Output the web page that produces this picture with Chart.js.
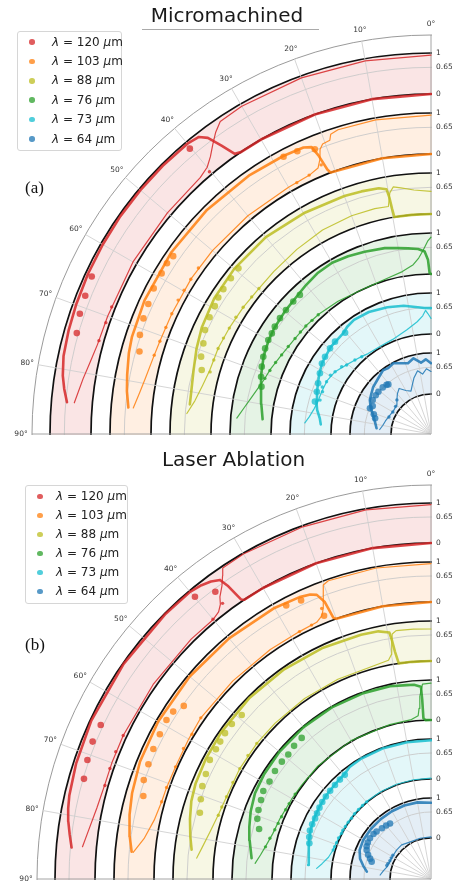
<!DOCTYPE html>
<html lang="en">
<head>
<meta charset="utf-8">
<title>Micromachined / Laser Ablation</title>
<script src="https://cdn.jsdelivr.net/npm/chart.js"></script>
<style>
html, body { margin:0; padding:0; background:#fff; }
body { width:452px; height:884px; overflow:hidden; position:relative; font-family:"DejaVu Sans", sans-serif; }
.panel { position:absolute; left:0; width:452px; overflow:hidden; }
.panel canvas { position:absolute; }
.title { position:absolute; left:0; font-size:20px; line-height:20px; color:#1a1a1a; text-align:center; white-space:nowrap; }
.rule { position:absolute; height:1px; background:#aaa; }
.tag { position:absolute; font-family:"Liberation Serif","Times New Roman",serif; font-size:17px; line-height:17px; color:#111; }
.legend { position:absolute; background:#fff; border:1px solid #d6d6d6; border-radius:3px; box-sizing:border-box; }
.legend .row { position:absolute; left:0; width:100%; height:19px; line-height:19px; font-size:12px; color:#222; white-space:nowrap; }
.legend .dot { position:absolute; width:5.5px; height:5.5px; border-radius:50%; top:6.75px; }
.legend .txt { position:absolute; top:0; }
.legend i { font-style:italic; }
</style>
</head>
<body>
<div class="panel" id="panelA" style="top:0;height:440px;">
  <canvas id="chartA" width="838" height="838" style="left:12px;top:15px;"></canvas>
  <div class="title" style="top:5px;width:454px;">Micromachined</div>
  <div class="rule" style="left:142px;top:29px;width:177px;"></div>
  <div class="legend" id="legendA" style="left:17px;top:31px;width:105px;height:120px;"></div>
  <div class="tag" style="left:25px;top:179px;">(a)</div>
</div>
<div class="panel" id="panelB" style="top:440px;height:444px;">
  <canvas id="chartB" width="828" height="828" style="left:17px;top:25px;"></canvas>
  <div class="title" style="top:9px;width:467px;">Laser Ablation</div>
  <div class="legend" id="legendB" style="left:25px;top:45px;width:103px;height:119px;"></div>
  <div class="tag" style="left:25px;top:196px;">(b)</div>
</div>
<script>
// ---------------- data (angle in degrees, normalised value in band) ----------------
const WAVELENGTHS = [120, 103, 88, 76, 73, 64];
const ANGLE_TICKS = [0, 10, 20, 30, 40, 50, 60, 70, 80, 90];
const RADIAL_TICKS = [0, 0.65, 1];

// Micromachined
const MM_120_THICK = [[0,0],[10,0],[20,0],[30,0],[34,0],[35,0.05],[36,0.4],[37,0.75],[38,0.9],[40,0.95],[45,0.96],[50,0.96],[55,0.96],[60,0.95],[65,0.94],[70,0.92],[74,0.9],[78,0.87],[81,0.8],[83,0.72],[85,0.62]];
const MM_120_THIN = [[0,0.95],[10,0.95],[20,0.95],[30,0.94],[34,0.9],[35.5,0.75],[37,0.55],[38.5,0.35],[40,0.2],[42,0.12],[50,0.1],[60,0.1],[70,0.1],[75,0.13],[78,0.2],[81,0.3],[85,0.44]];
const MM_120_BIG = [[40.2,0.82],[65.1,0.83],[68.2,0.79],[71.1,0.76],[74.1,0.69]];
const MM_120_SMALL = [[40.2,0.08],[68.3,0.09],[71.1,0.09],[74.3,0.12]];

const MM_103_THICK = [[0,0],[10,0],[21,0],[21.4,0.1],[22,0.5],[22.6,0.75],[24,0.82],[28,0.85],[35,0.88],[45,0.9],[55,0.9],[65,0.88],[72,0.84],[75,0.8],[79,0.72],[82,0.66],[85,0.58]];
const MM_103_THIN = [[0,0.95],[10,0.95],[17,0.93],[18.5,0.88],[19,0.75],[20.5,0.72],[21.3,0.62],[22,0.4],[23,0.22],[25,0.15],[30,0.12],[40,0.12],[50,0.13],[57,0.14],[65,0.14],[71,0.16],[75,0.2],[79,0.27],[82,0.35],[85,0.46]];
const MM_103_BIG = [[22.2,0.67],[25.3,0.8],[28.0,0.83],[55.4,0.81],[57.1,0.84],[59.2,0.82],[62.3,0.81],[65.3,0.76],[68.1,0.73],[71.2,0.67],[74.2,0.56]];
const MM_103_SMALL = [[22.2,0.26],[25.2,0.15],[28.1,0.12],[54.5,0.14],[57.2,0.14],[59.8,0.14],[62.1,0.15],[65.1,0.14],[68.1,0.14],[71.1,0.16],[74.1,0.19]];

const MM_88_THICK = [[0,0],[5,0],[9.6,0],[9.8,0.2],[10,0.5],[10.3,0.7],[12,0.76],[16,0.79],[20,0.81],[30,0.85],[40,0.9],[50,0.9],[58,0.87],[65,0.8],[70,0.72],[75,0.63],[79,0.58],[83,0.56]];
const MM_88_THIN = [[0,0.55],[4,0.6],[7,0.68],[8.7,0.73],[9.7,0.6],[10.6,0.28],[14,0.3],[20,0.3],[28,0.27],[36,0.2],[44,0.15],[50,0.13],[56,0.16],[62,0.19],[68,0.23],[74,0.25],[78,0.33],[82,0.45],[85.2,0.61]];
const MM_88_BIG = [[49.3,0.83],[52.1,0.82],[55.1,0.81],[57.3,0.8],[59.4,0.76],[62.2,0.74],[65.3,0.7],[68.3,0.61],[71.4,0.55],[74.4,0.44]];
const MM_88_SMALL = [[49.8,0.13],[52.6,0.14],[56,0.16],[59.1,0.18],[62.3,0.19],[65.2,0.21],[68.1,0.23],[71.2,0.23],[74.3,0.23]];

const MM_76_THICK = [[0,0],[0.5,0.03],[1,0.35],[2,0.55],[4,0.62],[7,0.66],[10,0.7],[14,0.77],[20,0.83],[25,0.88],[30,0.92],[35,0.9],[40,0.84],[43,0.8],[50,0.75],[56,0.71],[60,0.67],[65,0.6],[71,0.48],[75,0.39],[80,0.3],[85,0.22]];
const MM_76_THIN = [[0,0.9],[1,0.8],[2.4,0.59],[4,0.4],[6,0.25],[10,0.12],[15,0.05],[24,0],[35,0.05],[43,0.1],[49,0.13],[55,0.15],[62,0.22],[68,0.32],[72,0.38],[78,0.55],[82,0.7],[85.3,0.85]];
const MM_76_BIG = [[43.3,0.76],[46.1,0.76],[49.5,0.75],[52.5,0.74],[55.5,0.72],[57.7,0.69],[60,0.68],[62.7,0.65],[65.3,0.6],[68.3,0.54],[71.4,0.47],[74.4,0.39]];
const MM_76_SMALL = [[43.4,0.1],[46.3,0.11],[49.2,0.13],[52,0.14],[54.9,0.15],[58.5,0.18],[62.1,0.22],[65.3,0.27],[68.5,0.32],[71.5,0.37]];

const MM_73_THICK = [[0,0.63],[3,0.64],[6,0.67],[12,0.76],[19,0.83],[27,0.9],[34,0.92],[38,0.88],[41,0.82],[49,0.8],[57,0.73],[62,0.65],[66,0.58],[70,0.52],[74,0.47],[78,0.4],[82,0.3],[85,0.26]];
const MM_73_THIN = [[0,0.38],[1.5,0.5],[2.5,0.58],[4,0.45],[7,0.32],[13,0.17],[22,0.05],[30,0.03],[38,0.05],[42,0.1],[46,0.15],[51,0.23],[57,0.35],[63,0.41],[69,0.42],[74,0.43],[78,0.48],[82,0.56],[85,0.65]];
const MM_73_BIG = [[40.3,0.8],[46.1,0.81],[49.7,0.79],[53.9,0.76],[57.1,0.73],[61.3,0.65],[65.8,0.58],[69.7,0.53],[74.4,0.5]];
const MM_73_SMALL = [[41.9,0.09],[45.8,0.15],[50.7,0.22],[53,0.29],[57,0.35],[59.7,0.4],[63.4,0.41],[66.6,0.45],[68.7,0.4],[73,0.39]];

const MM_64_THICK = [[0,0.75],[4,0.85],[8,0.78],[13,0.92],[18,0.84],[23,0.9],[28,0.98],[33,0.94],[37,0.97],[43,0.9],[51,0.84],[56,0.78],[61,0.73],[67,0.62],[73,0.49],[78,0.42],[84,0.36]];
const MM_64_THIN = [[0,0.55],[4,0.62],[8,0.5],[12,0.6],[17,0.45],[21,0.3],[25,0.18],[30,0.25],[35,0.38],[40,0.3],[45,0.2],[50,0.12],[58,0.1],[66,0.13],[74,0.18],[80,0.22],[85,0.28]];
const MM_64_BIG = [[40.7,0.62],[42.1,0.64],[46,0.66],[51.2,0.67],[55,0.67],[59.7,0.67],[64.4,0.6],[67.2,0.64],[71,0.5],[74.3,0.44]];
const MM_64_SMALL = [[45,0.2],[52,0.12],[60,0.1],[68,0.13]];

// Laser Ablation
const LA_120_THICK = [[0,0],[10,0],[20,0],[30,0],[33.8,0],[34.2,0.05],[34.7,0.5],[35.2,0.75],[36.5,0.85],[38,0.92],[40,0.97],[45,0.98],[55,0.98],[65,0.97],[72,0.93],[77,0.88],[79,0.84],[81,0.78],[83,0.7],[85,0.62]];
const LA_120_THIN = [[0,0.96],[10,0.97],[20,0.97],[30,0.98],[33.8,0.96],[34.5,0.8],[35.5,0.6],[36.8,0.41],[37.5,0.25],[38.5,0.13],[40,0.07],[45,0.08],[55,0.08],[65,0.09],[70,0.09],[74,0.09],[78,0.14],[82,0.25],[84.7,0.35]];
const LA_120_BIG = [[36.9,0.58],[39.9,0.8],[65,0.71],[67.9,0.73],[70.9,0.69],[73.9,0.63]];
const LA_120_SMALL = [[37.1,0.24],[40,0.08],[65,0.09],[68,0.1],[71,0.09],[74,0.08]];

const LA_103_THICK = [[0,0],[10,0],[20,0],[20.5,0.05],[21,0.5],[21.9,0.73],[23,0.8],[25,0.85],[30,0.9],[40,0.93],[50,0.95],[60,0.95],[68,0.92],[74,0.85],[78,0.78],[82,0.68],[84.8,0.59]];
const LA_103_THIN = [[0,0.96],[10,0.97],[19,0.96],[20.1,0.9],[21,0.6],[21.7,0.36],[22.5,0.2],[24,0.1],[28,0.08],[35,0.08],[45,0.08],[55,0.1],[60,0.07],[66,0.05],[71,0.07],[74,0.08],[78,0.15],[82,0.32],[84.9,0.55]];
const LA_103_BIG = [[22.1,0.18],[25,0.76],[27.9,0.81],[55,0.62],[57,0.76],[59,0.79],[61.9,0.76],[64.9,0.74],[67.9,0.7],[71,0.67],[73.9,0.56]];
const LA_103_SMALL = [[22,0.37],[25.2,0.09],[28,0.08],[55,0.1],[58.8,0.06],[62.2,0.07],[66.3,0.05],[70.9,0.07],[74,0.08]];

const LA_88_THICK = [[0,0],[5,0],[8.5,0],[9,0.3],[9.3,0.6],[9.6,0.8],[12,0.88],[16,0.9],[25,0.93],[35,0.95],[45,0.96],[55,0.95],[62,0.93],[68,0.9],[72,0.85],[76,0.76],[80,0.66],[83,0.58]];
const LA_88_THIN = [[0,0.8],[4,0.81],[8,0.82],[9,0.75],[9.5,0.5],[10,0.25],[11,0.12],[15,0.07],[25,0.06],[35,0.06],[45,0.06],[52,0.07],[60,0.07],[68,0.06],[73,0.1],[78,0.2],[82,0.32],[84.9,0.43]];
const LA_88_BIG = [[49.1,0.81],[52.1,0.86],[54.7,0.86],[56.9,0.84],[58.9,0.83],[61.7,0.83],[65,0.76],[67.9,0.72],[70.9,0.64],[74,0.56]];
const LA_88_SMALL = [[52.1,0.07],[56,0.07],[60,0.07],[64,0.06],[68.1,0.06],[71,0.08],[73.3,0.1]];

const LA_76_THICK = [[0,0],[2,0],[2.7,0.05],[2.8,0.5],[3,0.84],[5,0.9],[7.1,0.91],[12,0.95],[20,0.97],[30,0.98],[40,0.98],[50,0.97],[58,0.95],[64,0.92],[69.4,0.84],[74,0.75],[78,0.66],[83.4,0.54]];
const LA_76_THIN = [[0,0.92],[2.5,0.9],[3.5,0.6],[4,0.3],[4.5,0.12],[7,0.04],[15,0.02],[30,0.02],[45,0.02],[54,0.02],[60,0.04],[68.1,0.09],[74,0.14],[78,0.22],[82,0.33],[84.9,0.44]];
const LA_76_BIG = [[42.5,0.81],[45.8,0.8],[48.9,0.76],[51.8,0.77],[55.3,0.77],[58.9,0.74],[62.3,0.76],[65.1,0.71],[68.2,0.67],[70.9,0.62],[73.8,0.5]];
const LA_76_SMALL = [[58,0.03],[62,0.04],[64.5,0.05],[67.4,0.07],[70,0.09],[72.5,0.12],[75.8,0.18],[79,0.24]];

const LA_73_THICK = [[0,0.97],[10,0.97],[20,0.98],[30,0.98],[36,0.96],[39.6,0.9],[45.6,0.87],[51.9,0.85],[57.4,0.82],[62.4,0.79],[68.2,0.75],[73.6,0.68],[78,0.63],[83.5,0.59]];
const LA_73_THIN = [[0,0.02],[10,0.02],[20,0.02],[30,0.02],[40,0.02],[50,0.02],[60,0.02],[68,0.03],[74,0.06],[78,0.12],[82,0.25],[84.7,0.37]];
const LA_73_BIG = [[39.6,0.88],[42.5,0.87],[45.6,0.86],[48.8,0.85],[51.9,0.84],[54.7,0.83],[57.4,0.81],[60,0.79],[62.4,0.77],[65.3,0.77],[68.2,0.76],[71,0.72],[73.6,0.67]];
const LA_73_SMALL = [[39.8,0.01],[43,0.01],[46.2,0.01],[49.5,0.01],[52.6,0],[55.5,0.01],[58.5,0.01],[61,0.02],[62.9,0.01],[66,0.03],[69,0.03],[71.5,0.04],[73.5,0.05]];

const LA_64_THICK = [[0,0.88],[10,0.92],[20,0.93],[30,0.93],[40,0.93],[50,0.93],[60,0.93],[68,0.9],[74,0.82],[79,0.7],[83.5,0.59]];
const LA_64_THIN = [[0,0.03],[15,0.03],[30,0.04],[40.8,0.1],[50,0.1],[60,0.09],[67.1,0.09],[75,0.12],[80,0.18],[85.5,0.25]];
const LA_64_BIG = [[36.4,0.7],[40,0.72],[44,0.74],[48.9,0.78],[52,0.8],[56.3,0.81],[60,0.8],[63,0.78],[65.7,0.74],[69,0.66],[71.5,0.58],[73.7,0.52]];
const LA_64_SMALL = [[58,0.1],[62,0.1],[66,0.1],[70,0.12],[73,0.13]];

// ---------------- layout / style (not data) ----------------
const TAB_RGB = ['214,39,40','255,127,14','188,189,34','44,160,44','23,190,207','31,119,180'];
const rgba = (k, a) => `rgba(${TAB_RGB[k]},${a})`;
const STEP = 0.1;                       // angular resolution of the category grid
const N_LABELS = Math.round(360 / STEP);
const ANGLE_LABELS = Array.from({ length: N_LABELS }, (_, i) => String(i));
const angleIndex = t => Math.round((90 - t) / STEP);  // 0 deg at top, 90 deg at left
const ANGLE_TICK_INDEX = new Set(ANGLE_TICKS.map(angleIndex));
const BAND_FILL_TICK = 0.5;

const PANELS = [
  { canvas: 'chartA', R: 399, W: 41, pad: 20, inner: [340, 280, 220, 160, 100, 40],
    bands: [[MM_120_THICK, MM_120_THIN, MM_120_BIG, MM_120_SMALL],
            [MM_103_THICK, MM_103_THIN, MM_103_BIG, MM_103_SMALL],
            [MM_88_THICK, MM_88_THIN, MM_88_BIG, MM_88_SMALL],
            [MM_76_THICK, MM_76_THIN, MM_76_BIG, MM_76_SMALL],
            [MM_73_THICK, MM_73_THIN, MM_73_BIG, MM_73_SMALL],
            [MM_64_THICK, MM_64_THIN, MM_64_BIG, MM_64_SMALL]],
    legend: { id: 'legendA', row0: 10, step: 19.4, dotX: 14, textX: 34 } },
  { canvas: 'chartB', R: 394, W: 40, pad: 20, inner: [336, 277, 218, 159, 100, 41],
    bands: [[LA_120_THICK, LA_120_THIN, LA_120_BIG, LA_120_SMALL],
            [LA_103_THICK, LA_103_THIN, LA_103_BIG, LA_103_SMALL],
            [LA_88_THICK, LA_88_THIN, LA_88_BIG, LA_88_SMALL],
            [LA_76_THICK, LA_76_THIN, LA_76_BIG, LA_76_SMALL],
            [LA_73_THICK, LA_73_THIN, LA_73_BIG, LA_73_SMALL],
            [LA_64_THICK, LA_64_THIN, LA_64_BIG, LA_64_SMALL]],
    legend: { id: 'legendB', row0: 10.7, step: 19, dotX: 14, textX: 30 } }
];

// radar controller whose lines are open curves (not closed loops)
class OpenRadarController extends Chart.RadarController {
  update(mode) {
    super.update(mode);
    const line = this._cachedMeta.dataset;
    if (line) { line._loop = false; line._fullLoop = false; line._segments = undefined; line._path = undefined; }
  }
}
OpenRadarController.id = 'openRadar';
Chart.register(OpenRadarController);

function toSeries(pairs) {
  const out = new Array(angleIndex(0) + 1).fill(null);
  pairs.forEach(p => { out[angleIndex(p[0])] = p[1]; });
  return out;
}

function makeScales(panel) {
  const scales = {};
  panel.inner.forEach((r0, k) => {
    scales['r' + k] = {
      type: 'radialLinear', axis: 'r', startAngle: -90,
      min: -r0 / panel.W, max: (panel.R - r0) / panel.W, beginAtZero: false,
      ticks: { display: false }, pointLabels: { display: false }, angleLines: { display: false },
      grid: {
        circular: true,
        color: c => c.tick.value === BAND_FILL_TICK ? rgba(k, 0.12) : (c.tick.value === 0.65 ? '#c9c9c9' : '#111'),
        lineWidth: c => c.tick.value === BAND_FILL_TICK ? panel.W : (c.tick.value === 0.65 ? 0.9 : 1.7)
      },
      afterBuildTicks: s => { s.ticks = [BAND_FILL_TICK].concat(RADIAL_TICKS).map(v => ({ value: v })); }
    };
  });
  scales.rf = {
    type: 'radialLinear', axis: 'r', startAngle: -90, min: 0, max: 1,
    ticks: { display: false }, pointLabels: { display: false },
    grid: { circular: true, color: '#8e8e8e', lineWidth: 0.9 },
    angleLines: {
      display: true,
      color: c => (c.index === 0 || c.index === angleIndex(0)) ? '#9a9a9a' : '#d0d0d0',
      lineWidth: c => ANGLE_TICK_INDEX.has(c.index) ? 0.9 : 0
    },
    afterBuildTicks: s => { s.ticks = [{ value: 0 }, { value: 1 }]; }
  };
  return scales;
}

function makeDatasets(panel) {
  const ds = [];
  panel.bands.forEach((b, k) => {
    const [thick, thin, big, small] = b;
    const rAxisID = 'r' + k;
    const label = 'λ = ' + WAVELENGTHS[k] + ' μm';
    ds.push({ label, data: toSeries(big), rAxisID, showLine: false, fill: false,
      pointRadius: 3.3, pointBackgroundColor: rgba(k, 0.75), pointBorderWidth: 0 });
    ds.push({ label, data: toSeries(small), rAxisID, showLine: false, fill: false,
      pointRadius: 1.7, pointBackgroundColor: rgba(k, 0.8), pointBorderWidth: 0 });
    ds.push({ label, data: toSeries(thick), rAxisID, fill: false, spanGaps: true, pointRadius: 0,
      borderColor: rgba(k, 0.85), borderWidth: 2.6, borderJoinStyle: 'round', borderCapStyle: 'round' });
    ds.push({ label, data: toSeries(thin), rAxisID, fill: false, spanGaps: true, pointRadius: 0,
      borderColor: rgba(k, 0.85), borderWidth: 1.2, borderJoinStyle: 'round', borderCapStyle: 'round' });
  });
  return ds;
}

function polarDecor(panel) {
  return {
    id: 'polarDecor',
    beforeDraw(chart) {
      const f = chart.scales.rf, ctx = chart.ctx;
      ctx.save();
      ctx.beginPath();
      ctx.rect(0, 0, f.xCenter + 1, f.yCenter + 1);
      ctx.clip();
    },
    afterDraw(chart) {
      const ctx = chart.ctx;
      ctx.restore();
      const f = chart.scales.rf;
      ctx.save();
      ctx.fillStyle = '#333';
      ctx.font = '7.5px "DejaVu Sans"';
      ctx.textAlign = 'center';
      ctx.textBaseline = 'middle';
      ANGLE_TICKS.forEach(t => {
        const p = f.getPointPosition(angleIndex(t), f.drawingArea + 11);
        ctx.fillText(t + '°', p.x, p.y);
      });
      ctx.textAlign = 'left';
      panel.inner.forEach((_, k) => {
        const s = chart.scales['r' + k];
        RADIAL_TICKS.forEach(v => {
          ctx.fillText(String(v), s.xCenter + 5, s.yCenter - s.getDistanceFromCenterForValue(v));
        });
      });
      ctx.restore();
    }
  };
}

function buildLegend(g) {
  const box = document.getElementById(g.id);
  WAVELENGTHS.forEach((w, k) => {
    const row = document.createElement('div');
    row.className = 'row';
    row.style.top = (g.row0 + g.step * k - 9.5) + 'px';
    const dot = document.createElement('span');
    dot.className = 'dot';
    dot.style.left = (g.dotX - 2.75) + 'px';
    dot.style.background = rgba(k, 0.75);
    const txt = document.createElement('span');
    txt.className = 'txt';
    txt.style.left = g.textX + 'px';
    txt.innerHTML = '<i>λ</i> = ' + w + ' <i>μ</i>m';
    row.appendChild(dot);
    row.appendChild(txt);
    box.appendChild(row);
  });
}

PANELS.forEach(panel => {
  buildLegend(panel.legend);
  new Chart(document.getElementById(panel.canvas), {
    type: 'openRadar',
    data: { labels: ANGLE_LABELS, datasets: makeDatasets(panel) },
    options: {
      responsive: false, animation: false, devicePixelRatio: 1, events: [],
      layout: { padding: panel.pad },
      scales: makeScales(panel),
      elements: { line: { tension: 0 } },
      plugins: { legend: { display: false }, title: { display: false }, tooltip: { enabled: false } }
    },
    plugins: [polarDecor(panel)]
  });
});
</script>
</body>
</html>
